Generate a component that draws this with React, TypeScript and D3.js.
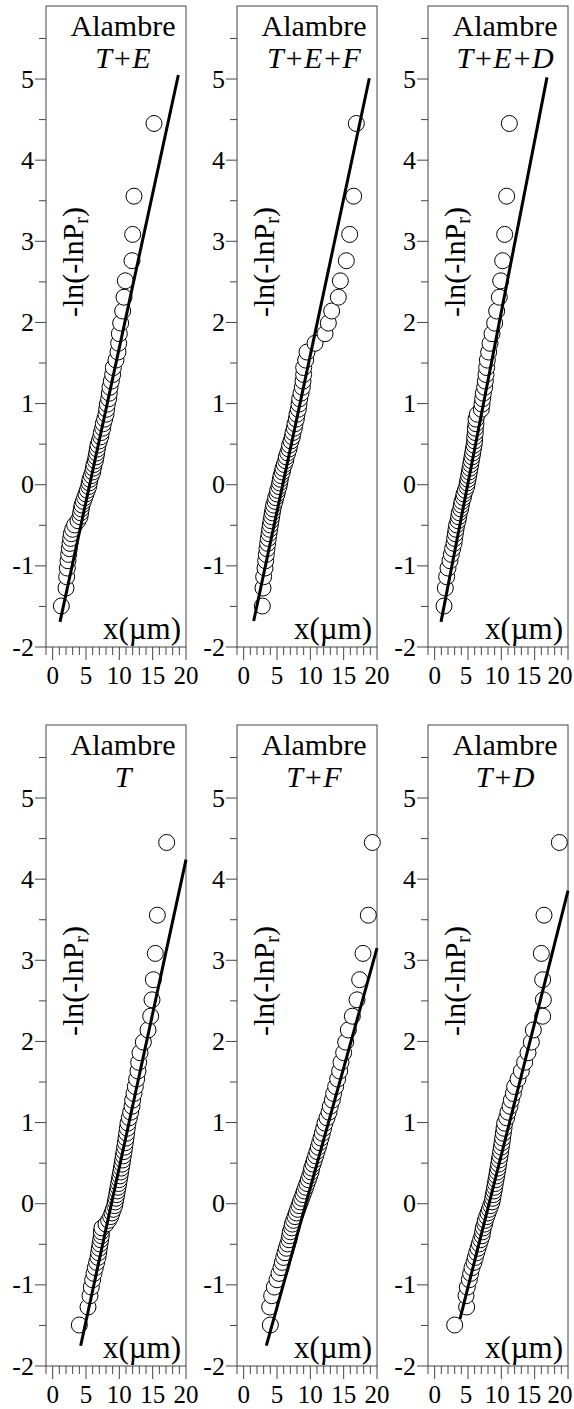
import React, { useEffect, useRef } from "react";
import * as d3 from "d3";

const W = 574;
const H = 1409;

// -ln(-lnPr) for the 60 ranked samples (same ranks in every panel)
const rankY = [
  -1.495, -1.273, -1.134, -1.027, -0.937, -0.859, -0.788, -0.723, -0.662, -0.604,
  -0.549, -0.496, -0.444, -0.395, -0.346, -0.298, -0.251, -0.205, -0.159, -0.114,
  -0.069, -0.023, 0.022, 0.067, 0.112, 0.157, 0.203, 0.249, 0.296, 0.343,
  0.391, 0.439, 0.488, 0.539, 0.590, 0.643, 0.697, 0.752, 0.809, 0.869,
  0.930, 0.993, 1.059, 1.128, 1.201, 1.277, 1.358, 1.444, 1.536, 1.635,
  1.743, 1.861, 1.992, 2.141, 2.311, 2.513, 2.761, 3.085, 3.556, 4.452,
];

// x (µm) of each sample, per panel
const xTE = [
  1.3, 2.0, 2.1, 2.2, 2.3, 2.4, 2.5, 2.6, 2.7, 2.8,
  3.0, 3.3, 3.8, 4.1, 4.2, 4.3, 4.4, 4.6, 4.8, 5.0,
  5.2, 5.4, 5.5, 5.6, 5.8, 6.0, 6.1, 6.2, 6.4, 6.5,
  6.6, 6.7, 6.8, 7.0, 7.2, 7.3, 7.5, 7.6, 7.8, 8.0,
  8.1, 8.2, 8.4, 8.5, 8.6, 8.8, 9.0, 9.1, 9.5, 9.8,
  9.9, 10.0, 10.2, 10.5, 10.7, 10.9, 11.9, 12.0, 12.2, 15.2,
];
const xTEF = [
  2.8, 2.9, 3.0, 3.2, 3.3, 3.4, 3.5, 3.6, 3.7, 3.8,
  3.9, 4.0, 4.1, 4.2, 4.3, 4.4, 4.5, 4.7, 4.8, 5.0,
  5.1, 5.3, 5.4, 5.5, 5.6, 5.8, 5.9, 6.1, 6.3, 6.4,
  6.6, 6.8, 6.9, 7.1, 7.3, 7.4, 7.6, 7.7, 7.9, 8.0,
  8.2, 8.3, 8.4, 8.6, 8.8, 8.9, 9.0, 9.0, 9.3, 9.5,
  10.7, 12.2, 12.7, 13.2, 14.2, 14.5, 15.4, 15.9, 16.5, 16.9,
];
const xTED = [
  1.4, 1.6, 1.8, 2.0, 2.3, 2.5, 2.7, 2.9, 3.0, 3.1,
  3.2, 3.3, 3.5, 3.6, 3.7, 3.9, 4.0, 4.1, 4.3, 4.4,
  4.6, 4.8, 4.9, 5.0, 5.1, 5.2, 5.3, 5.4, 5.5, 5.6,
  5.7, 5.8, 5.9, 6.0, 6.0, 6.1, 6.1, 6.2, 6.2, 6.4,
  7.0, 7.1, 7.2, 7.3, 7.5, 7.6, 7.7, 7.8, 7.9, 8.1,
  8.3, 8.6, 9.0, 9.3, 9.7, 9.9, 10.2, 10.5, 10.8, 11.2,
];
const xT = [
  4.0, 5.3, 5.6, 5.8, 6.0, 6.2, 6.4, 6.6, 6.8, 6.9,
  7.0, 7.1, 7.2, 7.3, 7.3, 7.4, 8.0, 8.4, 8.7, 8.9,
  9.1, 9.3, 9.4, 9.5, 9.6, 9.7, 9.8, 9.9, 10.0, 10.1,
  10.2, 10.3, 10.4, 10.5, 10.6, 10.7, 10.8, 10.9, 11.0, 11.1,
  11.2, 11.3, 11.5, 11.7, 11.9, 12.0, 12.2, 12.4, 12.6, 12.8,
  12.9, 13.1, 13.6, 14.3, 14.7, 14.9, 15.1, 15.4, 15.7, 17.1,
];
const xTF = [
  4.0, 3.9, 4.2, 4.6, 5.0, 5.3, 5.6, 5.8, 6.0, 6.2,
  6.4, 6.6, 6.8, 6.9, 7.0, 7.2, 7.3, 7.5, 7.7, 7.9,
  8.1, 8.3, 8.5, 8.7, 8.9, 9.1, 9.3, 9.5, 9.7, 9.9,
  10.1, 10.2, 10.4, 10.6, 10.8, 11.0, 11.2, 11.4, 11.6, 11.8,
  12.0, 12.2, 12.5, 12.8, 13.0, 13.3, 13.5, 13.8, 14.1, 14.4,
  14.6, 15.0, 15.3, 15.7, 16.3, 17.0, 17.4, 17.9, 18.7, 19.3,
];
const xTD = [
  3.0, 4.8, 4.7, 4.9, 5.2, 5.4, 5.6, 5.9, 6.1, 6.3,
  6.5, 6.7, 6.9, 7.1, 7.2, 7.3, 7.5, 7.6, 7.8, 8.0,
  8.2, 8.4, 8.6, 8.7, 8.8, 8.9, 9.0, 9.1, 9.2, 9.3,
  9.4, 9.5, 9.6, 9.7, 9.8, 9.9, 10.0, 10.1, 10.2, 10.3,
  10.4, 10.5, 10.8, 11.0, 11.3, 11.5, 11.8, 12.0, 12.5, 13.0,
  13.5, 14.0, 14.5, 14.8, 16.2, 16.3, 16.2, 16.0, 16.4, 18.7,
];

const panelX = [xTE, xTEF, xTED, xT, xTF, xTD];
const titles = ["T+E", "T+E+F", "T+E+D", "T", "T+F", "T+D"];

// fitted straight lines: [x0, y0, x1, y1]
const fits = [
  [1.1, -1.69, 18.85, 5.05],
  [1.5, -1.68, 18.85, 5.01],
  [0.95, -1.69, 16.85, 5.02],
  [4.2, -1.75, 20, 4.24],
  [3.4, -1.75, 20, 3.15],
  [3.8, -1.42, 20, 3.86],
];

const yTickLabels = [-2, -1, 0, 1, 2, 3, 4, 5];
const xTickLabels = [0, 5, 10, 15, 20];

const FONT = "'Liberation Serif', 'Times New Roman', serif";

export default function App() {
  const ref = useRef<SVGSVGElement>(null);

  useEffect(() => {
    const svg = d3.select(ref.current);
    svg.selectAll("*").remove();

    const pw = 140;   // panel width
    const ph = 641;   // panel height

    panelX.forEach((xs, p) => {
      const col = p % 3;
      const row = Math.floor(p / 3);
      const left = 46 + col * 191;
      const top = 6 + row * 719;

      const x = d3.scaleLinear().domain([-1, 20]).range([left, left + pw]);
      const y = d3.scaleLinear().domain([-2, 5.9]).range([top + ph, top]);

      const g = svg.append("g");

      // frame
      g.append("rect")
        .attr("x", left).attr("y", top)
        .attr("width", pw).attr("height", ph)
        .attr("fill", "none").attr("stroke", "#444").attr("stroke-width", 1);

      // x ticks (every 1, long every 5)
      g.selectAll(".xt")
        .data(d3.range(-1, 21))
        .join("line")
        .attr("x1", d => x(d)).attr("x2", d => x(d))
        .attr("y1", top + ph)
        .attr("y2", d => top + ph + (d % 5 === 0 ? 13 : 8))
        .attr("stroke", "#444").attr("stroke-width", 1);

      // y ticks (every 0.5, long at integers)
      g.selectAll(".yt")
        .data(d3.range(-2, 6, 0.5))
        .join("line")
        .attr("y1", d => y(d)).attr("y2", d => y(d))
        .attr("x1", left)
        .attr("x2", d => left - (Number.isInteger(d) ? 11 : 7))
        .attr("stroke", "#444").attr("stroke-width", 1);

      g.selectAll(".yl")
        .data(yTickLabels)
        .join("text")
        .attr("x", left - 12)
        .attr("y", d => y(d))
        .attr("dy", "0.33em")
        .attr("text-anchor", "end")
        .attr("font-family", FONT)
        .attr("font-size", 26)
        .text(d => String(d));

      // right column: squeeze labels a bit to the left so "20" stays on the page
      const nudge = (d: number) => (col === 2 ? -(d / 20) * 8 : 0);
      g.selectAll(".xl")
        .data(xTickLabels)
        .join("text")
        .attr("x", d => x(d) + nudge(d))
        .attr("y", top + ph + 37)
        .attr("text-anchor", "middle")
        .attr("font-family", FONT)
        .attr("font-size", 25)
        .text(d => String(d));

      // data points
      g.selectAll("circle")
        .data(xs)
        .join("circle")
        .attr("cx", d => x(d))
        .attr("cy", (d, i) => y(rankY[i]))
        .attr("r", 8)
        .attr("fill", "#fff")
        .attr("stroke", "#000")
        .attr("stroke-width", 1);

      // fitted line
      const f = fits[p];
      g.append("line")
        .attr("x1", x(f[0])).attr("y1", y(f[1]))
        .attr("x2", x(f[2])).attr("y2", y(f[3]))
        .attr("stroke", "#000").attr("stroke-width", 3);

      // title
      const tx = left + pw - 63;
      g.append("text")
        .attr("x", tx).attr("y", top + 30)
        .attr("text-anchor", "middle")
        .attr("font-family", FONT).attr("font-size", 30)
        .text("Alambre");
      g.append("text")
        .attr("x", tx).attr("y", top + 62)
        .attr("text-anchor", "middle")
        .attr("font-family", FONT).attr("font-size", 30)
        .attr("font-style", "italic")
        .text(titles[p]);

      // x label
      g.append("text")
        .attr("x", left + pw - 5).attr("y", top + ph - 8)
        .attr("text-anchor", "end")
        .attr("font-family", FONT).attr("font-size", 31)
        .text("x(µm)");

      // y label
      const yl = g.append("text")
        .attr("transform", `translate(${left + 37},${top + 256}) rotate(-90)`)
        .attr("text-anchor", "middle")
        .attr("font-family", FONT).attr("font-size", 30);
      yl.append("tspan").text("-ln(-lnP");
      yl.append("tspan").attr("font-size", 20).attr("dy", 5).text("r");
      yl.append("tspan").attr("dy", -5).text(")");
    });
  }, []);

  return (
    <svg
      ref={ref}
      width={W}
      height={H}
      style={{ position: "absolute", left: 0, top: 0, background: "#fff" }}
    />
  );
}
